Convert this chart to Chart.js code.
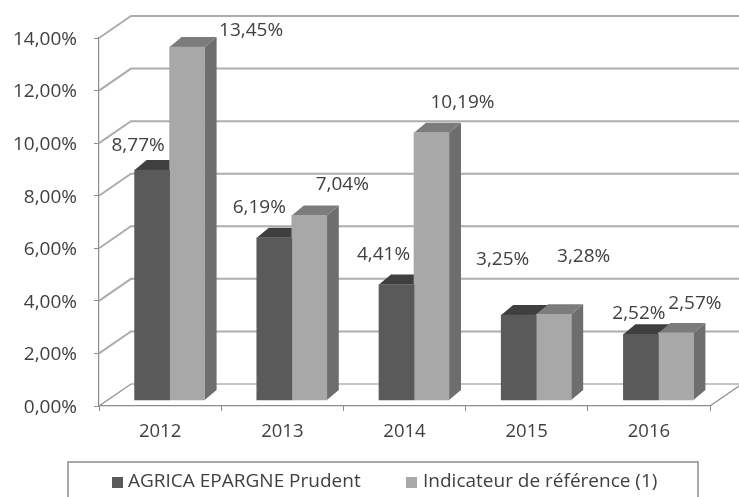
<!DOCTYPE html>
<html>
<head>
<meta charset="utf-8">
<script src="https://cdn.jsdelivr.net/npm/chart.js@4"></script>
<style>
  body { margin: 0; background: #fff; }
  #wrap { width: 739px; height: 497px; overflow: hidden; }
  canvas { filter: blur(0.45px); }
</style>
</head>
<body>
<div id="wrap"><canvas id="chart" width="739" height="497"></canvas></div>
<script>
const years = ["2012", "2013", "2014", "2015", "2016"];
const agrica = [8.77, 6.19, 4.41, 3.25, 2.52];
const indicateur = [13.45, 7.04, 10.19, 3.28, 2.57];
const seriesNames = ["AGRICA EPARGNE Prudent", "Indicateur de référence (1)"];

// where each value label sits relative to its bar top (Excel moved them by hand)
const agricaLabelShift = [[-14, -24], [-15, -30], [-13, -30], [-16, -55], [-2, -21]];
const indicateurLabelShift = [[64, -16], [33, -31], [31, -30], [30, -58], [19, -29]];
const labelShifts = [agricaLabelShift, indicateurLabelShift];

const font = "'Open Sans', sans-serif";
const fontSize = 19;
const textColor = "#404040";
const lineColor = "#8c8c8c";
const wallDepth = [32, -22];
const barDepth = [12, -10];
const barShift = [9.5, -5.5];
const frontColors = ["#5a5a5a", "#a8a8a8"];
const topColors = ["#3f3f3f", "#7c7c7c"];
const sideColors = ["#454545", "#6e6e6e"];
const legendSquares = [112, 406];
const legendTexts = [128, 423];

const fmt = v => v.toFixed(2).replace(".", ",") + "%";

function poly(ctx, pts, color) {
  ctx.fillStyle = color;
  ctx.beginPath();
  pts.forEach((p, i) => i ? ctx.lineTo(p[0], p[1]) : ctx.moveTo(p[0], p[1]));
  ctx.closePath();
  ctx.fill();
}

const fake3d = {
  id: "fake3d",
  beforeDatasetsDraw(chart) {
    const { ctx, chartArea: a, scales: { y } } = chart;
    const right = chart.width;
    ctx.save();
    // back wall and floor lines
    y.ticks.forEach(t => {
      const py = y.getPixelForValue(t.value);
      ctx.strokeStyle = t.value === 0 ? lineColor : "#adadad";
      ctx.lineWidth = t.value === 0 ? 1.2 : 2;
      ctx.beginPath();
      ctx.moveTo(a.left, py);
      ctx.lineTo(a.left + wallDepth[0], py + wallDepth[1]);
      ctx.lineTo(right, py + wallDepth[1]);
      ctx.stroke();
    });
    const base = y.getPixelForValue(0);
    ctx.strokeStyle = lineColor;
    ctx.lineWidth = 1.2;
    ctx.beginPath();
    ctx.moveTo(a.right, base);
    ctx.lineTo(a.right + wallDepth[0], base + wallDepth[1]);
    ctx.stroke();

    // top and side faces of the bars
    ctx.translate(barShift[0], barShift[1]);
    chart.data.datasets.forEach((ds, i) => {
      chart.getDatasetMeta(i).data.forEach(bar => {
        const l = bar.x - bar.width / 2, r = bar.x + bar.width / 2;
        const [dx, dy] = barDepth;
        poly(ctx, [[r, bar.y], [r + dx, bar.y + dy], [r + dx, bar.base + dy], [r, bar.base]], sideColors[i]);
        poly(ctx, [[l, bar.y], [l + dx, bar.y + dy], [r + dx, bar.y + dy], [r, bar.y]], topColors[i]);
      });
    });
    // stays translated so the library's own bars land on the faces
  },
  afterDatasetsDraw(chart) {
    const { ctx } = chart;
    ctx.restore();
    ctx.save();
    ctx.fillStyle = textColor;
    ctx.font = fontSize + "px " + font;
    ctx.textAlign = "center";
    ctx.textBaseline = "middle";
    chart.data.datasets.forEach((ds, i) => {
      chart.getDatasetMeta(i).data.forEach((bar, j) => {
        const s = labelShifts[i][j];
        ctx.fillText(fmt(ds.data[j]), bar.x + barShift[0] + s[0], bar.y + barShift[1] + s[1]);
      });
    });
    // legend frame runs off the bottom of the picture, so the legend is drawn here
    ctx.strokeStyle = lineColor;
    ctx.lineWidth = 1.5;
    ctx.strokeRect(68, 462, 630, 60);
    ctx.textAlign = "left";
    seriesNames.forEach((name, i) => {
      ctx.fillStyle = frontColors[i];
      ctx.fillRect(legendSquares[i], 477, 11, 11);
      ctx.fillStyle = textColor;
      ctx.fillText(name, legendTexts[i], 482);
    });
    ctx.restore();
  }
};

new Chart(document.getElementById("chart"), {
  type: "bar",
  data: {
    labels: years,
    datasets: [
      { label: seriesNames[0], data: agrica, backgroundColor: frontColors[0], barThickness: 35, clip: false },
      { label: seriesNames[1], data: indicateur, backgroundColor: frontColors[1], barThickness: 35, clip: false }
    ]
  },
  options: {
    responsive: false,
    animation: false,
    layout: { padding: { top: 38, right: 29, left: 0, bottom: 0 } },
    plugins: {
      tooltip: { enabled: false },
      legend: { display: false }
    },
    scales: {
      x: {
        afterFit: s => { s.height = 91; },
        grid: { drawOnChartArea: false, color: lineColor, tickLength: 5 },
        border: { color: lineColor, width: 1.2 },
        ticks: { color: textColor, padding: 10, font: { family: font, size: 18.5 } }
      },
      y: {
        min: 0,
        max: 14,
        afterFit: s => { s.width = 99; },
        grid: { drawOnChartArea: false, color: lineColor, tickLength: 5 },
        border: { color: lineColor, width: 1.2 },
        ticks: {
          stepSize: 2,
          color: textColor,
          padding: 17,
          labelOffset: 1.5,
          font: { family: font, size: fontSize },
          callback: v => fmt(v)
        }
      }
    }
  },
  plugins: [fake3d]
});
</script>
</body>
</html>
